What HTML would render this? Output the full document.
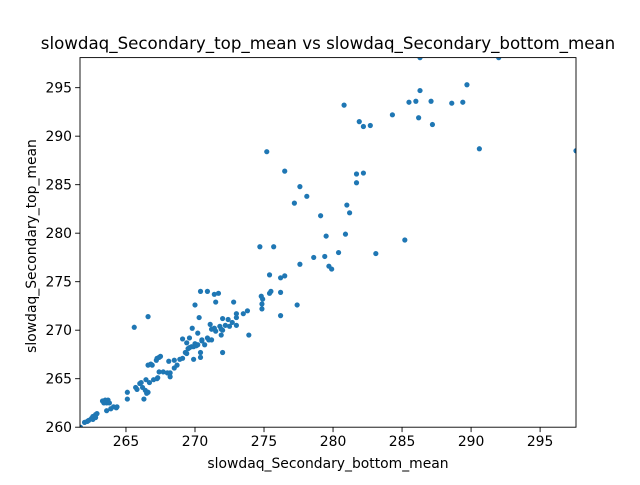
<!DOCTYPE html>
<html><head><meta charset="utf-8"><style>
body{margin:0;background:#fff;}
svg text{font-family:"DejaVu Sans","Liberation Sans",sans-serif;fill:#000;}
</style></head><body>
<svg id="chart" width="640" height="480" viewBox="0 0 640 480">
<rect width="640" height="480" fill="#fff"/>
<text x="328" y="49" font-size="16.67" text-anchor="middle">slowdaq_Secondary_top_mean vs slowdaq_Secondary_bottom_mean</text>
<text x="328" y="468" font-size="13.9" text-anchor="middle">slowdaq_Secondary_bottom_mean</text>
<text x="32" y="242" font-size="13.9" text-anchor="middle" transform="rotate(-90 36 242)">slowdaq_Secondary_top_mean</text>
<g id="points"></g>
<g id="axes"></g>
</svg>
<script>
const xTicks=[265,270,275,280,285,290,295];
const yTicks=[260,265,270,275,280,285,290,295];
const xVals=[286.3,292.0,289.7,280.8,286.3,285.5,286.0,287.1,288.6,289.4,284.3,286.2,287.2,281.9,282.2,282.7,290.6,297.6,281.7,282.2,281.7,281.0,281.2,280.9,285.2,280.4,283.1,275.2,276.5,277.6,278.1,277.2,279.1,279.5,274.7,275.7,278.6,279.4,277.6,279.7,279.9,275.4,276.2,276.5,274.8,274.9,274.85,274.85,275.4,275.5,276.2,277.4,276.2,272.8,270.4,270.9,271.4,271.7,271.5,270.0,270.3,273.0,273.5,273.8,273.0,272.0,272.4,272.7,273.0,272.5,272.2,271.8,271.9,272.0,271.1,271.4,271.2,271.5,269.8,270.2,271.9,273.9,269.1,269.6,270.5,270.9,271.0,271.2,270.7,269.6,269.9,270.1,270.2,269.4,269.5,269.75,270.0,269.3,269.4,269.1,268.9,268.5,268.1,269.9,270.4,270.4,268.7,268.5,267.4,267.2,266.9,272.0,270.5,265.6,266.6,262.2,262.3,262.5,262.6,262.8,262.9,262.6,262.8,263.6,263.9,264.1,264.3,264.35,263.3,263.5,263.7,263.6,263.8,263.4,265.1,265.1,265.7,265.8,266.0,266.1,266.2,266.4,266.5,266.6,266.3,266.45,266.7,267.0,267.25,267.3,266.6,266.8,267.25,267.5,267.4,267.7,268.0,268.2,268.2,262.0,261.7];
const yVals=[298.1,298.1,295.3,293.2,294.7,293.5,293.6,293.6,293.4,293.5,292.2,291.9,291.2,291.5,291.0,291.1,288.7,288.5,286.1,286.2,285.2,282.9,282.1,279.9,279.3,278.0,277.9,288.4,286.4,284.8,283.8,283.1,281.8,279.7,278.6,278.6,277.5,277.6,276.8,276.6,276.3,275.7,275.4,275.6,273.5,273.2,272.7,272.2,273.8,274.0,273.9,272.6,271.5,272.9,274.0,274.0,273.7,273.8,272.9,272.6,271.3,271.7,271.7,272.0,271.3,271.2,271.1,270.8,270.5,270.4,270.5,270.4,270.1,270.0,270.6,270.2,270.1,269.9,270.2,269.7,269.5,269.5,269.1,269.2,269.0,269.2,269.0,269.0,268.5,268.2,268.3,268.4,268.5,268.7,268.1,268.3,268.6,267.7,267.6,267.1,267.0,266.9,266.8,267.0,267.7,267.2,266.4,266.1,267.2,266.9,266.4,267.7,268.9,270.3,271.4,260.6,260.7,260.9,261.1,261.3,261.4,260.8,261.0,261.7,261.9,262.1,262.0,262.1,262.7,262.8,262.8,262.5,262.5,262.5,263.6,262.9,264.1,263.9,264.5,264.6,264.1,263.8,263.5,263.6,262.9,264.9,264.6,264.9,265.0,265.1,266.4,266.5,267.1,267.3,265.7,265.7,265.6,265.6,265.2,260.5,260.0];
const X0=80,X1=576,Y0=427.2,Y1=57.6;
const xMin=261.67,xMax=297.6,yMin=260.0,yMax=298.1;
function sx(v){return X0+(v-xMin)/(xMax-xMin)*(X1-X0);}
function sy(v){return Y0-(v-yMin)/(yMax-yMin)*(Y0-Y1);}
const NS="http://www.w3.org/2000/svg";
const svg=document.getElementById('chart');
const pg=document.getElementById('points');
const clip=document.createElementNS(NS,'clipPath');clip.setAttribute('id','clp');
const cr=document.createElementNS(NS,'rect');cr.setAttribute('x',X0);cr.setAttribute('y',Y1);cr.setAttribute('width',X1-X0);cr.setAttribute('height',Y0-Y1);
clip.appendChild(cr);svg.appendChild(clip);
pg.setAttribute('clip-path','url(#clp)');
for(let i=0;i<xVals.length;i++){
  const c=document.createElementNS(NS,'circle');
  c.setAttribute('cx',sx(xVals[i]));c.setAttribute('cy',sy(yVals[i]));c.setAttribute('r',2.6);c.setAttribute('fill','#1f77b4');
  
  
  pg.appendChild(c);
}
const ax=document.getElementById('axes');
const fr=document.createElementNS(NS,'rect');
fr.setAttribute('x',X0);fr.setAttribute('y',Y1);fr.setAttribute('width',X1-X0);fr.setAttribute('height',Y0-Y1);
fr.setAttribute('fill','none');fr.setAttribute('stroke','#000');fr.setAttribute('stroke-width','0.9');


ax.appendChild(fr);
xTicks.forEach(t=>{
  const x=sx(t);
  const l=document.createElementNS(NS,'line');
  l.setAttribute('x1',x);l.setAttribute('x2',x);l.setAttribute('y1',Y0);l.setAttribute('y2',Y0+4.9);l.setAttribute('stroke','#000');l.setAttribute('stroke-width','0.9');
  
  
  ax.appendChild(l);
  const tx=document.createElementNS(NS,'text');
  tx.setAttribute('x',x);tx.setAttribute('y',Y0+19);tx.setAttribute('font-size','13.9');tx.setAttribute('text-anchor','middle');tx.textContent=t;
  
  
  ax.appendChild(tx);
});
yTicks.forEach(t=>{
  const y=sy(t);
  const l=document.createElementNS(NS,'line');
  l.setAttribute('x1',X0-4.9);l.setAttribute('x2',X0);l.setAttribute('y1',y);l.setAttribute('y2',y);l.setAttribute('stroke','#000');l.setAttribute('stroke-width','0.9');
  
  
  ax.appendChild(l);
  const tx=document.createElementNS(NS,'text');
  tx.setAttribute('x',X0-8);tx.setAttribute('y',y+5);tx.setAttribute('font-size','13.9');tx.setAttribute('text-anchor','end');tx.textContent=t;
  
  
  ax.appendChild(tx);
});
</script>
</body></html>
